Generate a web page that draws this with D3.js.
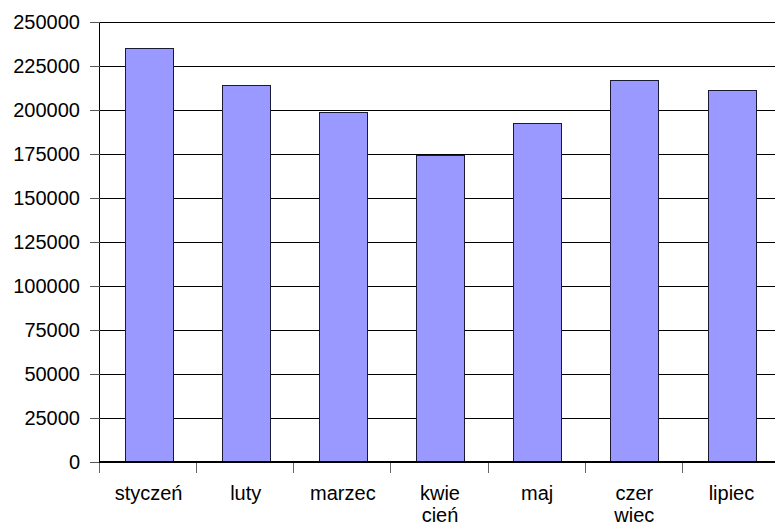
<!DOCTYPE html>
<html>
<head>
<meta charset="utf-8">
<script src="https://cdn.jsdelivr.net/npm/d3@7"></script>
<style>
  body { margin: 0; background: #fff; }
  svg { display: block; font-family: "Liberation Sans", Arial, sans-serif; }
</style>
</head>
<body>
<svg width="775" height="525"></svg>
<script>
'use strict';

const months = [['styczeń'], ['luty'], ['marzec'], ['kwie', 'cień'], ['maj'], ['czer', 'wiec'], ['lipiec']];
const values = [235000, 214000, 199000, 174500, 192500, 217000, 211500];
const yTicks = [0, 25000, 50000, 75000, 100000, 125000, 150000, 175000, 200000, 225000, 250000];

const svg = d3.select('svg');
const plotL = 100, plotR = 780, plotT = 22, plotB = 462;

const x = d3.scaleBand()
  .domain(d3.range(months.length))
  .range([plotL, plotR])
  .padding(0);

const y = d3.scaleLinear()
  .domain([0, 250000])
  .range([plotB, plotT]);

// gridlines
svg.append('g')
  .selectAll('line')
  .data(yTicks.filter(d => d > 0))
  .enter().append('line')
    .attr('x1', plotL)
    .attr('x2', plotR)
    .attr('y1', d => Math.round(y(d)) + 0.5)
    .attr('y2', d => Math.round(y(d)) + 0.5)
    .attr('stroke', '#000')
    .attr('stroke-width', 1);

// bars
const barW = x.bandwidth() * 0.49;
svg.append('g')
  .selectAll('rect')
  .data(values)
  .enter().append('rect')
    .attr('x', (d, i) => Math.round(x(i) + (x.bandwidth() - barW) / 2) + 0.5)
    .attr('y', d => Math.round(y(d)) + 0.5)
    .attr('width', Math.round(barW))
    .attr('height', d => plotB - Math.round(y(d)))
    .attr('fill', '#9999ff')
    .attr('stroke', '#1a1a33')
    .attr('stroke-width', 1);

// y axis
const yAxis = svg.append('g');
yAxis.append('line')
  .attr('x1', plotL - 0.5).attr('x2', plotL - 0.5)
  .attr('y1', plotT).attr('y2', plotB + 11)
  .attr('stroke', '#000');
yAxis.selectAll('line.tick')
  .data(yTicks)
  .enter().append('line')
    .attr('class', 'tick')
    .attr('x1', plotL - 10)
    .attr('x2', plotL)
    .attr('y1', d => Math.round(y(d)) + 0.5)
    .attr('y2', d => Math.round(y(d)) + 0.5)
    .attr('stroke', '#555');
yAxis.selectAll('text')
  .data(yTicks)
  .enter().append('text')
    .attr('x', plotL - 20)
    .attr('y', d => y(d) + 7)
    .attr('text-anchor', 'end')
    .attr('font-size', 20)
    .attr('fill', '#000')
    .text(d => d);

// x axis
const xAxis = svg.append('g');
xAxis.selectAll('line.tick')
  .data(d3.range(months.length + 1))
  .enter().append('line')
    .attr('class', 'tick')
    .attr('x1', i => Math.round(plotL + i * x.step()) - 0.5)
    .attr('x2', i => Math.round(plotL + i * x.step()) - 0.5)
    .attr('y1', plotB)
    .attr('y2', plotB + 11)
    .attr('stroke', '#666');
xAxis.append('line')
  .attr('x1', plotL - 1).attr('x2', plotR)
  .attr('y1', plotB).attr('y2', plotB)
  .attr('stroke', '#000')
  .attr('stroke-width', 2);
const lbl = xAxis.selectAll('text')
  .data(months)
  .enter().append('text')
    .attr('text-anchor', 'middle')
    .attr('font-size', 20)
    .attr('fill', '#000');
lbl.selectAll('tspan')
  .data((d, i) => d.map((s, k) => ({ s, k, i })))
  .enter().append('tspan')
    .attr('x', d => x(d.i) + x.bandwidth() / 2)
    .attr('y', d => 499.5 + d.k * 22)
    .text(d => d.s);
</script>
</body>
</html>
